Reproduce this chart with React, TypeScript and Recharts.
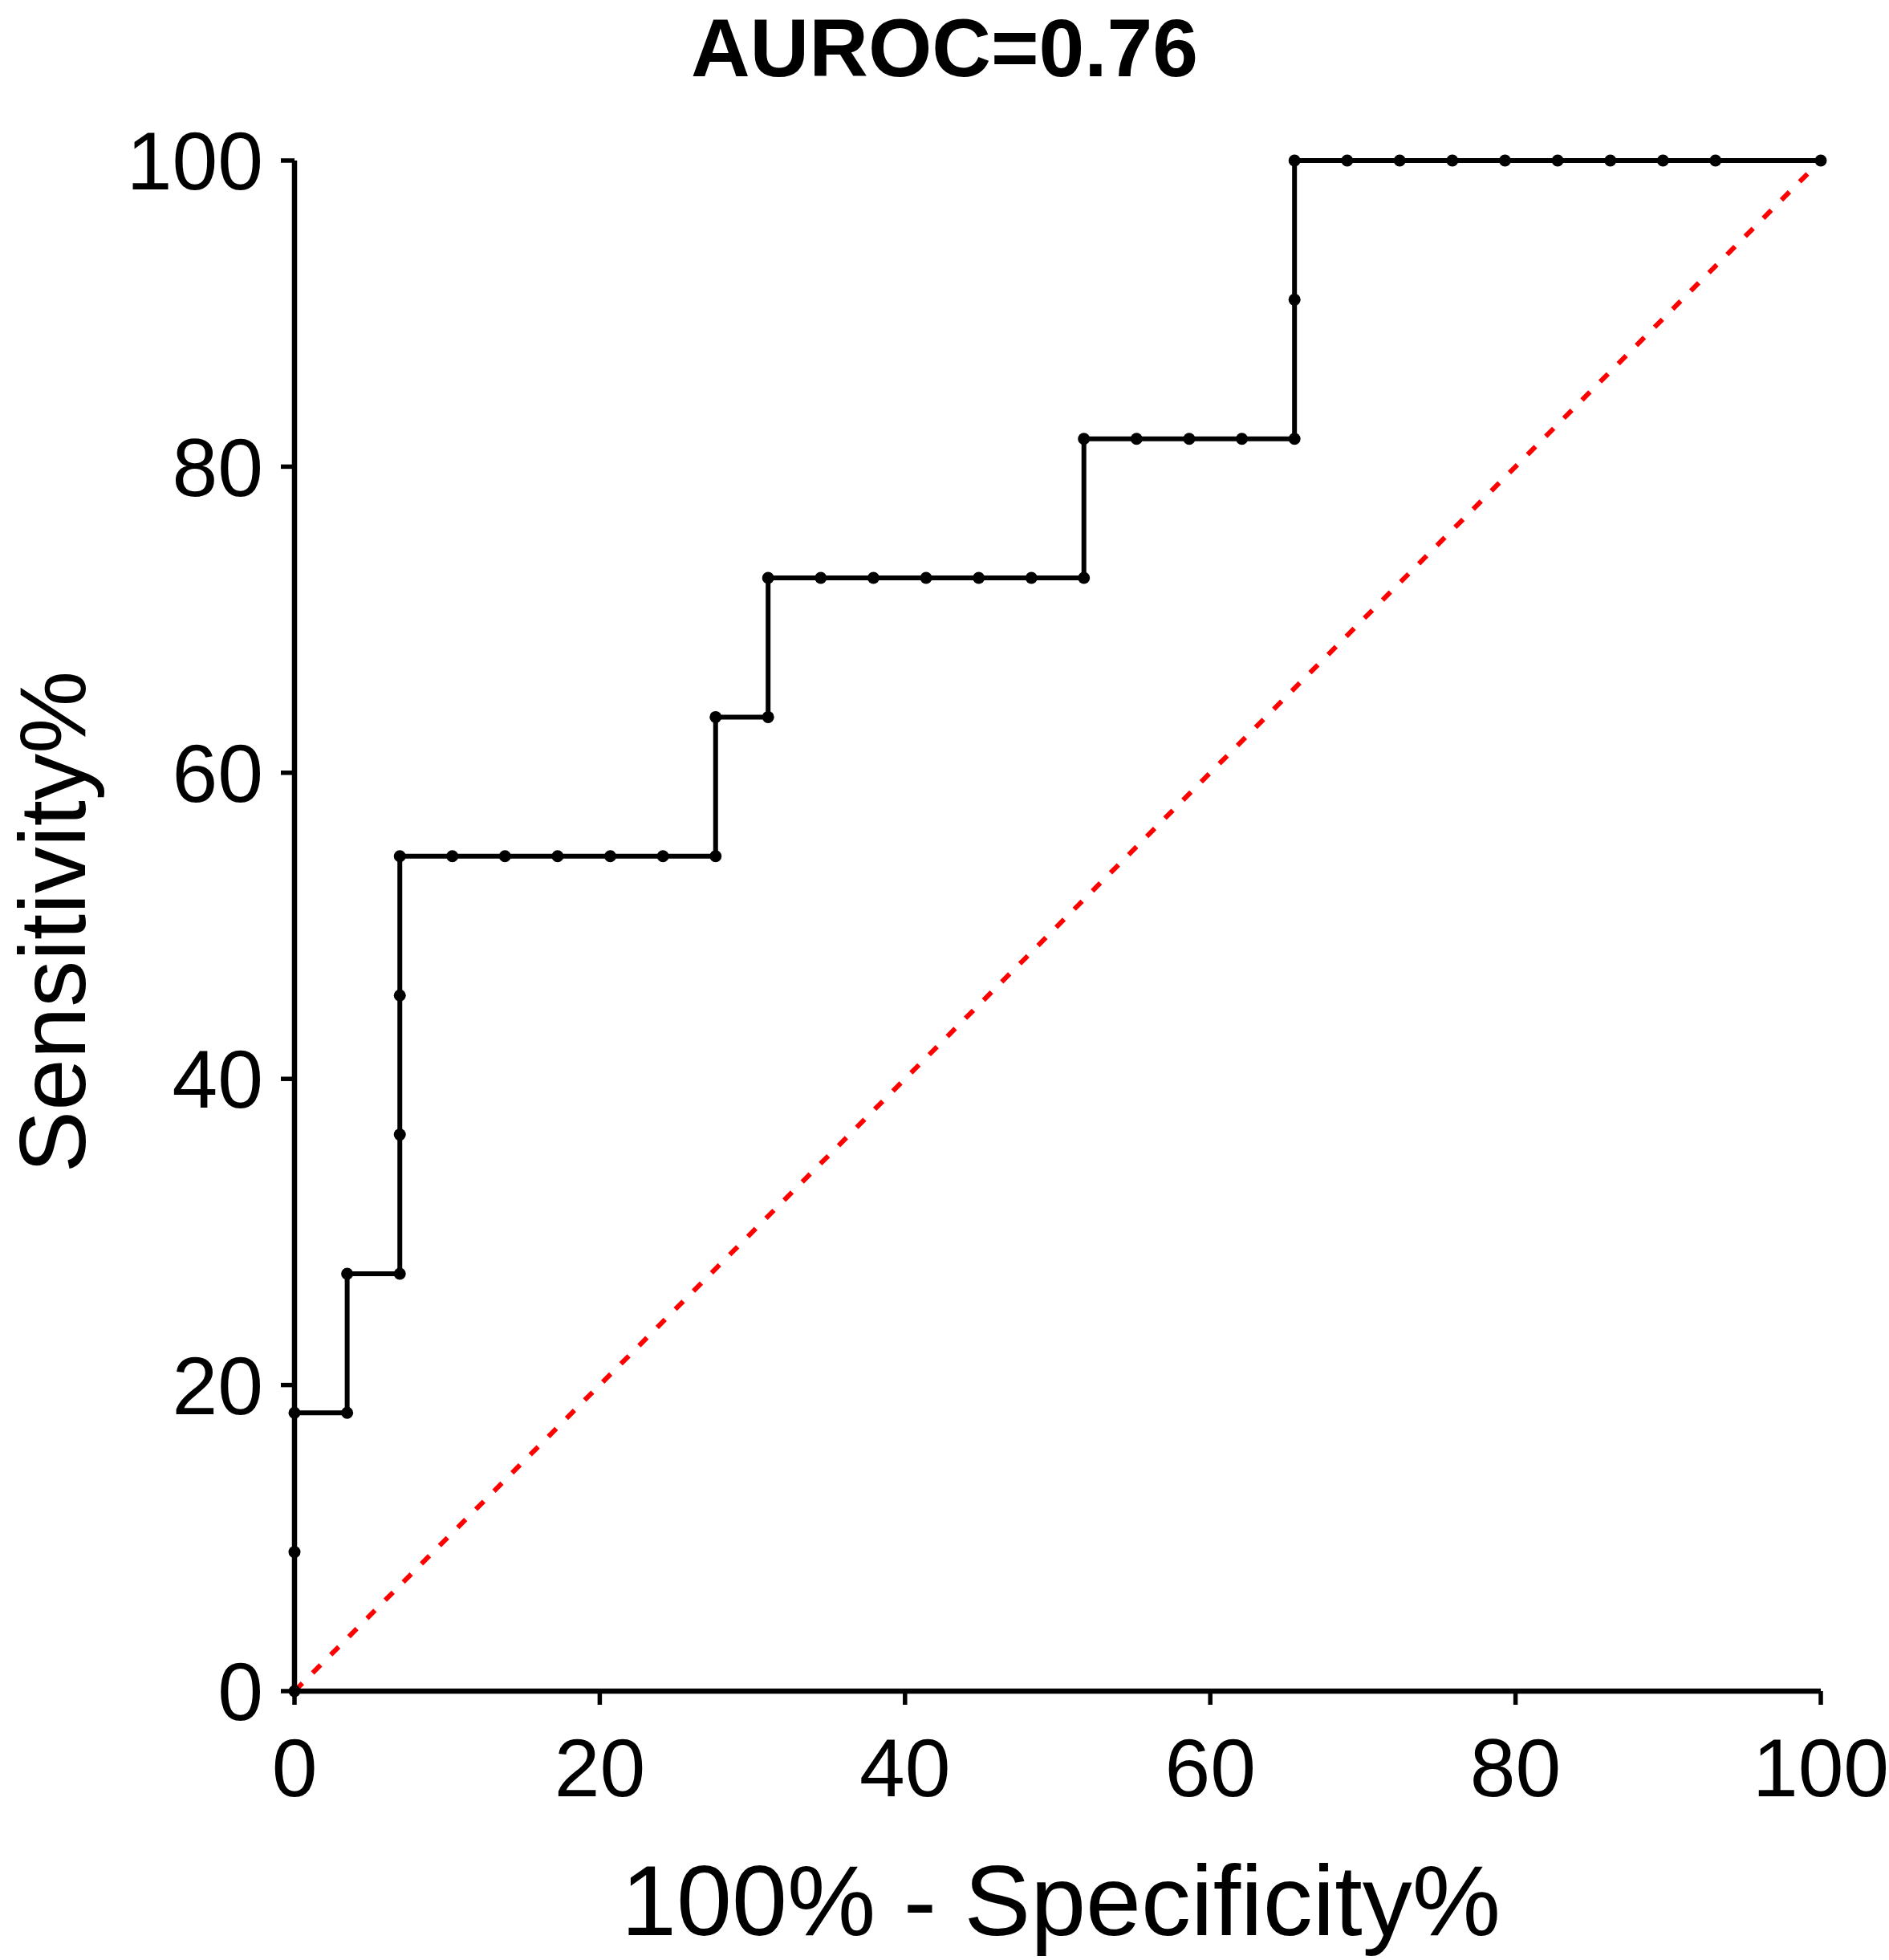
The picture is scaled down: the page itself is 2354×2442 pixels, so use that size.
import React from "react";
import { LineChart, Line, XAxis, YAxis } from "recharts";

// ROC curve points, in percent
const falsePositiveRate = [
  0, 0, 0, 3.45, 3.45, 6.9, 6.9, 6.9, 6.9, 10.34, 13.79, 17.24, 20.69, 24.14,
  27.59, 27.59, 31.03, 31.03, 34.48, 37.93, 41.38, 44.83, 48.28, 51.72, 51.72,
  55.17, 58.62, 62.07, 65.52, 65.52, 65.52, 68.97, 72.41, 75.86, 79.31, 82.76,
  86.21, 89.66, 93.1, 100,
];
const sensitivity = [
  0, 9.09, 18.18, 18.18, 27.27, 27.27, 36.36, 45.45, 54.55, 54.55, 54.55,
  54.55, 54.55, 54.55, 54.55, 63.64, 63.64, 72.73, 72.73, 72.73, 72.73, 72.73,
  72.73, 72.73, 81.82, 81.82, 81.82, 81.82, 81.82, 90.91, 100, 100, 100, 100,
  100, 100, 100, 100, 100, 100,
];
const chanceX = [0, 100];
const chanceY = [0, 100];
const axisTicks = [0, 20, 40, 60, 80, 100];

const rocData = falsePositiveRate.map((x, i) => ({ x, y: sensitivity[i] }));
const chanceData = chanceX.map((x, i) => ({ x, y: chanceY[i] }));

const FONT = "'Liberation Sans', Arial, Helvetica, sans-serif";

const App: React.FC = () => {
  const tickStyle = { fill: "#000", fontSize: 102, fontFamily: FONT };
  const axisLine = { stroke: "#000", strokeWidth: 6.5 };
  const tickLine = { stroke: "#000", strokeWidth: 5.5 };

  return (
    <div style={{ position: "absolute", left: 0, top: 0, background: "#fff" }}>
      <LineChart
        width={2354}
        height={2442}
        data={rocData}
        margin={{ top: 200, right: 85, left: 0, bottom: 0 }}
      >
        <text
          x={1177}
          y={95}
          textAnchor="middle"
          fontFamily={FONT}
          fontSize={102}
          fontWeight={700}
          fill="#000"
        >
          AUROC=0.76
        </text>
        <XAxis
          dataKey="x"
          type="number"
          domain={[0, 100]}
          ticks={axisTicks}
          height={335}
          tick={tickStyle}
          tickSize={17}
          tickMargin={42}
          axisLine={axisLine}
          tickLine={tickLine}
          label={{
            content: (props: any) => {
              const vb = props.viewBox || { x: 367, y: 2107, width: 1902, height: 335 };
              return (
                <text
                  x={vb.x + vb.width / 2 + 4}
                  y={vb.y + 304}
                  textAnchor="middle"
                  fontFamily={FONT}
                  fontSize={124}
                  fill="#000"
                >
                  100% - Specificity%
                </text>
              );
            },
          }}
        />
        <YAxis
          dataKey="y"
          type="number"
          domain={[0, 100]}
          ticks={axisTicks}
          width={367}
          tick={tickStyle}
          tickSize={17}
          tickMargin={22}
          axisLine={axisLine}
          tickLine={tickLine}
          label={{
            content: (props: any) => {
              const vb = props.viewBox || { x: 0, y: 200, width: 367, height: 1907 };
              const cx = vb.x + 106;
              const cy = vb.y + vb.height / 2 - 5;
              return (
                <text
                  x={cx}
                  y={cy}
                  transform={`rotate(-90 ${cx} ${cy})`}
                  textAnchor="middle"
                  fontFamily={FONT}
                  fontSize={116}
                  fill="#000"
                >
                  Sensitivity%
                </text>
              );
            },
          }}
        />
        <Line
          data={chanceData}
          dataKey="y"
          type="linear"
          stroke="#ff0000"
          strokeWidth={6}
          strokeDasharray="14 18"
          dot={false}
          activeDot={false}
          isAnimationActive={false}
        />
        <Line
          dataKey="y"
          type="linear"
          stroke="#000"
          strokeWidth={6}
          dot={{ r: 7.5, fill: "#000", stroke: "none" }}
          activeDot={false}
          isAnimationActive={false}
        />
      </LineChart>
    </div>
  );
};

export default App;
